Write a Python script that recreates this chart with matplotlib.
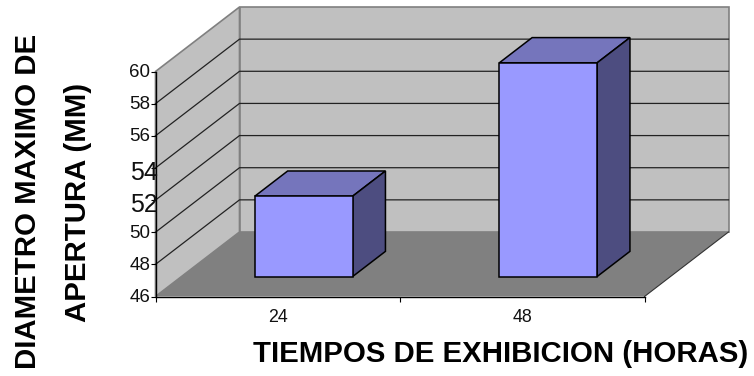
import matplotlib
matplotlib.use("Agg")
import matplotlib.pyplot as plt
from matplotlib.patches import Polygon

plt.rcParams["font.family"] = ["Liberation Sans", "DejaVu Sans"]

# Datos
categorias = ["24", "48"]
diametros = [51.0, 59.3]
marcas_y = [46, 48, 50, 52, 54, 56, 58, 60]

W, H = 754, 376
fig = plt.figure(figsize=(W / 100, H / 100), dpi=100)

# Eje frontal del grafico
x0, x1, y0, y1 = 155.5, 644.5, 296.5, 71.5
ax = fig.add_axes([x0 / W, 1 - y0 / H, (x1 - x0) / W, (y0 - y1) / H])
ax.set_xlim(0, len(categorias))
ax.set_ylim(marcas_y[0], marcas_y[-1])
ax.axis("off")

# Desplazamiento de la profundidad, en unidades de datos
prof_x = 84 / (x1 - x0) * len(categorias)
prof_y = 64.5 / (y0 - y1) * (marcas_y[-1] - marcas_y[0])


def p(x, y, d=0.0):
    return (x + d * prof_x, y + d * prof_y)


def cara(puntos, color, borde, lw=1.0, z=1):
    ax.add_patch(Polygon(puntos, closed=True, facecolor=color, edgecolor=borde,
                         linewidth=lw, clip_on=False, zorder=z))


n = len(categorias)
ymin, ymax = marcas_y[0], marcas_y[-1]

# Paredes y piso
cara([p(0, ymin), p(0, ymax), p(0, ymax, 1), p(0, ymin, 1)], "#c0c0c0", "#808080", 1.2)
cara([p(0, ymin, 1), p(0, ymax, 1), p(n, ymax, 1), p(n, ymin, 1)], "#c0c0c0", "#808080", 1.2)
cara([p(0, ymin), p(0, ymin, 1), p(n, ymin, 1), p(n, ymin)], "#808080", "none", 0)

# Lineas de cuadricula
for v in marcas_y[1:-1]:
    xs, ys = zip(p(0, v), p(0, v, 1), p(n, v, 1))
    ax.plot(xs, ys, color="#222222", lw=0.9, clip_on=False, zorder=2)

# Borde del piso a la derecha
xs, ys = zip(p(n, ymin), p(n, ymin, 1))
ax.plot(xs, ys, color="#333333", lw=0.8, clip_on=False, zorder=2)

# Barras en 3D
ancho = 0.4
d1, d2 = 0.31, 0.70
for i, v in enumerate(diametros):
    a, b = i + 0.5 - ancho / 2, i + 0.5 + ancho / 2
    cara([p(a, v, d1), p(a, v, d2), p(b, v, d2), p(b, v, d1)], "#7575bc", "black", 1.1, 3)
    cara([p(b, ymin, d1), p(b, v, d1), p(b, v, d2), p(b, ymin, d2)], "#4d4d80", "black", 1.1, 3)
    cara([p(a, ymin, d1), p(a, v, d1), p(b, v, d1), p(b, ymin, d1)], "#9999ff", "black", 1.1, 4)

# Ejes frontales y marcas
ax.plot([0, 0], [ymin, ymax], color="black", lw=1.0, clip_on=False, zorder=5)
ax.plot([0, n], [ymin, ymin], color="black", lw=1.0, clip_on=False, zorder=5)

# Las etiquetas 52 y 54 van mas grandes y montadas sobre el eje
for v in marcas_y:
    grande = v in (52, 54)
    ax.plot([0], [v], marker=0, ms=3.5, color="black", mew=0.8, clip_on=False, zorder=5)
    ax.annotate(str(v), xy=(0, v), xytext=(2.0 if grande else -3.6, -3.6 if grande else -0.6),
                textcoords="offset points", ha="right", va="center",
                fontsize=18 if grande else 13.5, color="#111111",
                annotation_clip=False, zorder=6)
for i in range(n + 1):
    ax.plot([i], [ymin], marker=3, ms=3.5, color="black", mew=0.8, clip_on=False, zorder=5)
for i, c in enumerate(categorias):
    ax.annotate(c, xy=(i + 0.5, ymin), xytext=(0.4, -15), textcoords="offset points",
                ha="center", va="center", fontsize=12.8, color="#111111", annotation_clip=False)

# Titulos de los ejes
fig.text(28.5 / W, 1 - 201 / H, "DIAMETRO MAXIMO DE", rotation=90, ha="center", va="center",
         fontsize=21.2, fontweight="bold", color="black")
fig.text(78 / W, 1 - 202.5 / H, "APERTURA (MM)", rotation=90, ha="center", va="center",
         fontsize=21.2, fontweight="bold", color="black")
fig.text(501 / W, 1 - 354 / H, "TIEMPOS DE EXHIBICION (HORAS)", ha="center", va="center",
         fontsize=21.2, fontweight="bold", color="black")

fig.savefig("out.png", dpi=100)
